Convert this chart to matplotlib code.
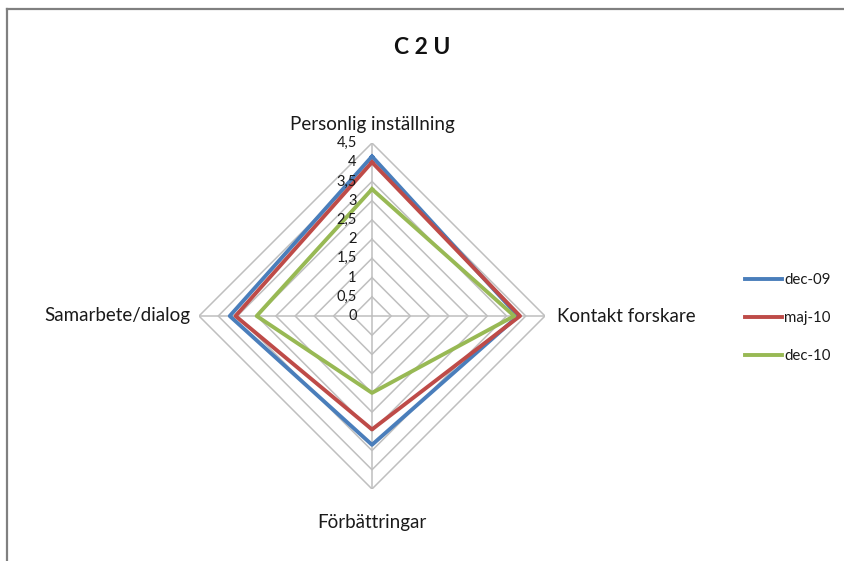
import numpy as np
import matplotlib
matplotlib.use("Agg")
from matplotlib import pyplot as plt
from matplotlib.lines import Line2D

plt.rcParams['font.family'] = ['Lato', 'DejaVu Sans']

# data
categories = ['Personlig inställning', 'Kontakt forskare', 'Förbättringar', 'Samarbete/dialog']
dec09 = [4.15, 3.8, 3.35, 3.7]
maj10 = [4.0, 3.85, 2.95, 3.55]
dec10 = [3.3, 3.7, 2.0, 3.0]
series_names = ['dec-09', 'maj-10', 'dec-10']
levels = [0, 0.5, 1, 1.5, 2, 2.5, 3, 3.5, 4, 4.5]
level_labels = ['0', '0,5', '1', '1,5', '2', '2,5', '3', '3,5', '4', '4,5']

colors = ['#4A7EBB', '#BE4B48', '#98B954']
grid_col = '#BFBFBF'
txt_col = '#1A1A1A'

W, H = 845, 561
fig = plt.figure(figsize=(W / 100, H / 100), dpi=100)
cx, cy, R = 372, 316, 173
ax = fig.add_axes([(cx - R) / W, (H - cy - R) / H, 2 * R / W, 2 * R / H], projection='polar')
ax.set_theta_zero_location('N')
ax.set_theta_direction(-1)

theta = np.arange(len(categories)) * 2 * np.pi / len(categories)
closed = np.append(theta, theta[0])

# diamond grid
for lv in levels[1:]:
    ax.plot(closed, [lv] * len(closed), color=grid_col, lw=1.1, zorder=1)
for t in theta:
    ax.plot([t, t], [0, levels[-1]], color=grid_col, lw=1.1, zorder=1)

for vals, col, name in zip([dec09, maj10, dec10], colors, series_names):
    ax.plot(closed, vals + vals[:1], color=col, lw=2.8, label=name, zorder=3)

ax.set_ylim(0, levels[-1])
ax.grid(False)
ax.spines['polar'].set_visible(False)
ax.set_xticks([])
ax.set_yticks([])
ax.patch.set_alpha(0)

# value labels along the top axis
for lv, lab in zip(levels, level_labels):
    ax.annotate(lab, xy=(0, lv), xytext=(-11, 0), textcoords='offset points',
                ha='right', va='center', fontsize=10.5, color=txt_col, zorder=4)

# category labels
offsets = [(0, 13, 'center', 'center'), (9, 0, 'left', 'center'),
           (0, -24, 'center', 'center'), (-6, 0, 'right', 'center')]
for t, cat, (dx, dy, ha, va) in zip(theta, categories, offsets):
    ax.annotate(cat, xy=(t, levels[-1]), xytext=(dx, dy), textcoords='offset points',
                ha=ha, va=va, fontsize=13.5, color=txt_col)

fig.text(0.5, 1 - 48 / H, 'C 2 U', ha='center', va='center', fontsize=16.5,
         fontweight='bold', color='#111111')

fig.legend(loc='center left', bbox_to_anchor=(745 / W, 1 - 318 / H), frameon=False,
           fontsize=10.8, handlelength=2.5, handletextpad=0.1, labelspacing=1.6,
           borderpad=0, borderaxespad=0, labelcolor=txt_col)

# chart frame (left and top edges visible)
fig.add_artist(Line2D([7 / W, 7 / W], [0, 1 - 9 / H], color='#808080', lw=1.6))
fig.add_artist(Line2D([7 / W, 1], [1 - 9 / H, 1 - 9 / H], color='#808080', lw=1.6))

fig.savefig('out.png', dpi=100)
